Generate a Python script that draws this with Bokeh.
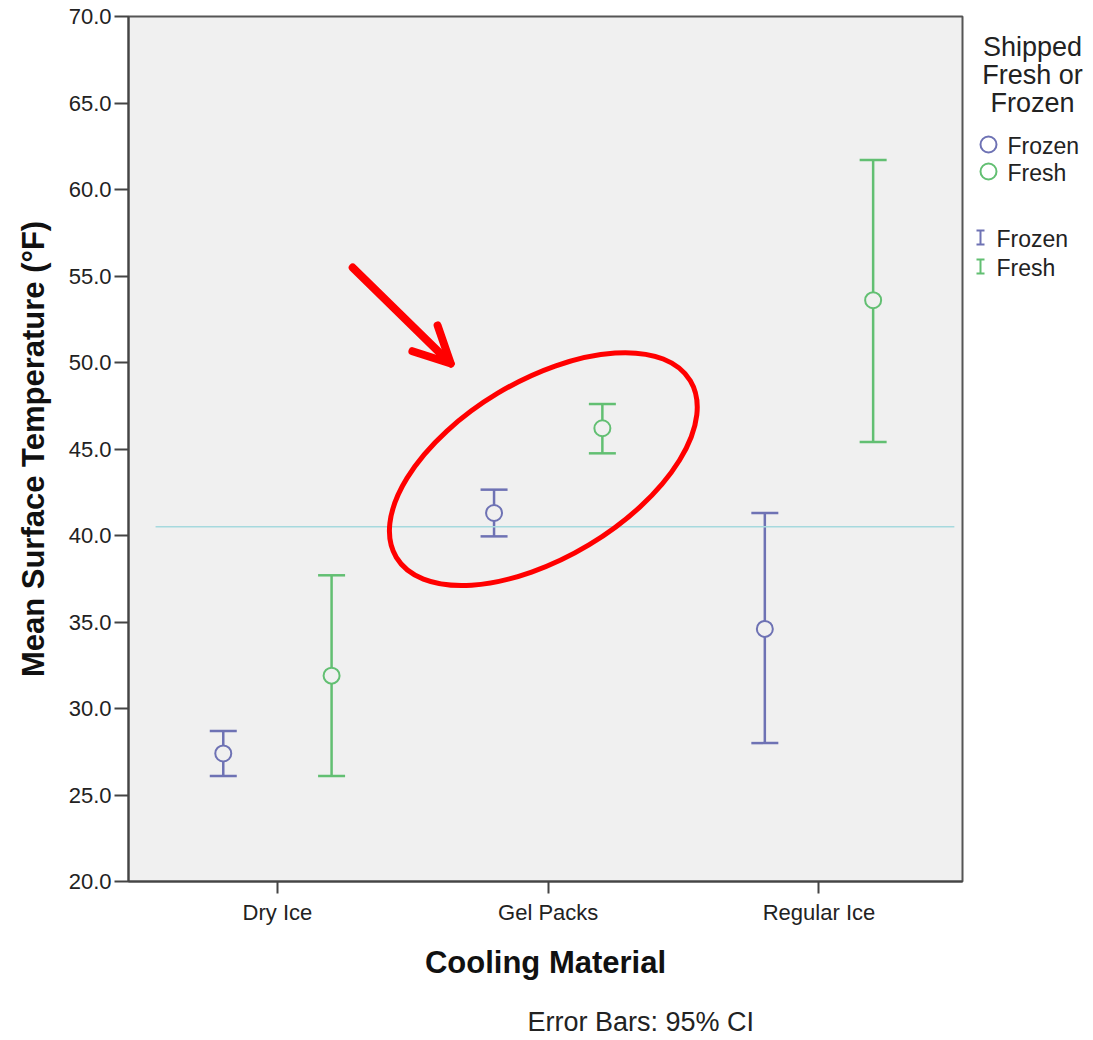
from bokeh.plotting import figure
from bokeh.layouts import row, column
from bokeh.models import (ColumnDataSource, Whisker, TeeHead, FixedTicker, Range1d,
                          Arrow, OpenHead, NumeralTickFormatter)
from bokeh.core.properties import value
from bokeh.embed import file_html
from bokeh.resources import INLINE

# ---------------- data ----------------
materials = ["Dry Ice", "Gel Packs", "Regular Ice"]
frozen_mean = [27.4, 41.3, 34.6]
frozen_lower = [26.1, 39.95, 28.0]
frozen_upper = [28.7, 42.65, 41.3]
fresh_mean = [31.9, 46.2, 53.6]
fresh_lower = [26.1, 44.75, 45.4]
fresh_upper = [37.7, 47.6, 61.7]
reference_value = 40.5
y_ticks = [20, 25, 30, 35, 40, 45, 50, 55, 60, 65, 70]
series_names = ["Frozen", "Fresh"]
legend_title = ["Shipped", "Fresh or", "Frozen"]
footnote = "Error Bars: 95% CI"

FROZEN_C = "#6e72b4"
FRESH_C = "#62bf72"
FONT = "Liberation Sans"
TXT = "#222222"

cat_pos = [i + 1 for i in range(len(materials))]
frozen_x = [c - 0.2 for c in cat_pos]
fresh_x = [c + 0.2 for c in cat_pos]

# frame geometry (page pixels)
FL, FR, FT, FB = 128, 962, 16, 881
PW = FR + 2          # main figure width
PH = FB + 110        # main figure height
LW = 121             # legend panel width
FH = 47              # footnote strip height

p = figure(width=PW, height=PH, x_range=Range1d(0.45, 3.53), y_range=Range1d(20, 70),
           toolbar_location=None, output_backend="svg",
           min_border_left=FL, min_border_top=FT, min_border_right=PW - FR,
           min_border_bottom=PH - FB)
p.background_fill_color = "#f0f0f0"
p.border_fill_color = "white"
p.outline_line_color = "#555555"
p.outline_line_width = 2
p.grid.visible = False

# axes
p.xaxis.ticker = FixedTicker(ticks=cat_pos)
p.xaxis.major_label_overrides = {c: m for c, m in zip(cat_pos, materials)}
p.yaxis.ticker = FixedTicker(ticks=y_ticks)
p.yaxis.formatter = NumeralTickFormatter(format="0.0")
for ax in (p.xaxis[0], p.yaxis[0]):
    ax.minor_tick_line_color = None
    ax.major_tick_in = 0
    ax.axis_line_color = "#444444"
    ax.axis_line_width = 2
    ax.major_tick_line_color = "#444444"
    ax.major_tick_line_width = 2
    ax.major_label_text_font = FONT
    ax.major_label_text_font_size = "22px"
    ax.major_label_text_color = TXT
    ax.axis_label_text_font = FONT
    ax.axis_label_text_font_style = "bold"
    ax.axis_label_text_color = "#111111"
p.xaxis.major_tick_out = 12
p.yaxis.major_tick_out = 14
p.xaxis.major_label_standoff = 6
p.yaxis.major_label_standoff = 3
p.xaxis.axis_label = "Cooling Material"
p.yaxis.axis_label = "Mean Surface Temperature (°F)"
p.xaxis.axis_label_text_font_size = "31px"
p.yaxis.axis_label_text_font_size = "31px"
p.xaxis.axis_label_standoff = 17
p.yaxis.axis_label_standoff = 15

# reference line
x_lo, x_hi = 0.55, 3.50
p.line(x=[x_lo, x_hi], y=[reference_value, reference_value], line_color="#a6d9de", line_width=1.5)

# error bars and means
for xs, mean, lo, hi, col in ((frozen_x, frozen_mean, frozen_lower, frozen_upper, FROZEN_C),
                              (fresh_x, fresh_mean, fresh_lower, fresh_upper, FRESH_C)):
    src = ColumnDataSource(dict(x=xs, mean=mean, lower=lo, upper=hi))
    w = Whisker(base="x", upper="upper", lower="lower", source=src,
                line_color=col, line_width=2.5,
                upper_head=TeeHead(size=27, line_color=col, line_width=2.5),
                lower_head=TeeHead(size=27, line_color=col, line_width=2.5))
    p.add_layout(w)
    p.scatter(x="x", y="mean", source=src, marker="circle", size=16,
              fill_color="#f0f0f0", line_color=col, line_width=2)

# red annotation ellipse and arrow
p.ellipse(x=[1.982], y=[43.84], width=[343], height=[177], angle=[0.541],
          width_units="screen", height_units="screen",
          fill_color=None, line_color="#ff0000", line_width=5)
p.add_layout(Arrow(x_start=1.278, y_start=55.49, x_end=1.640, y_end=49.94,
                   line_color="#ff0000", line_width=8, line_cap="round",
                   end=OpenHead(size=36, line_color="#ff0000", line_width=8, line_cap="round",
                                line_join="round")))

# ---------------- legend panel (coordinates = page pixels) ----------------
lg = figure(width=LW, height=PH, x_range=Range1d(PW, PW + LW), y_range=Range1d(FB, FT),
            toolbar_location=None, output_backend="svg",
            min_border_left=0, min_border_right=0, min_border_top=FT,
            min_border_bottom=PH - FB)
lg.axis.visible = False
lg.grid.visible = False
lg.outline_line_color = None
lg.background_fill_color = "white"
lg.border_fill_color = "white"

lg.text(x=[1032, 1032, 1032], y=[46, 74, 102], text=legend_title, text_align="center",
        text_baseline="middle", text_font=value(FONT), text_font_size="27px", text_color=TXT)

cols = [FROZEN_C, FRESH_C]
lg.scatter(x=[988, 988], y=[144, 171], marker="circle", size=16, fill_color=None,
           line_color=cols, line_width=2)
lg.text(x=[1007, 1007], y=[145, 172], text=series_names, text_baseline="middle",
        text_font=value(FONT), text_font_size="23px", text_color=TXT)

iy = [237, 266]
lg.segment(x0=[980, 980], y0=[y - 7 for y in iy], x1=[980, 980], y1=[y + 7 for y in iy],
           line_color=cols, line_width=2)
lg.segment(x0=[976, 976], y0=[y - 7 for y in iy], x1=[984, 984], y1=[y - 7 for y in iy],
           line_color=cols, line_width=2)
lg.segment(x0=[976, 976], y0=[y + 7 for y in iy], x1=[984, 984], y1=[y + 7 for y in iy],
           line_color=cols, line_width=2)
lg.text(x=[996, 996], y=[y + 1 for y in iy], text=series_names, text_baseline="middle",
        text_font=value(FONT), text_font_size="23px", text_color=TXT)

# ---------------- footnote strip (coordinates = page pixels) ----------------
ft = figure(width=PW, height=FH, x_range=Range1d(FL, FR), y_range=Range1d(PH + FH, PH),
            toolbar_location=None, output_backend="svg",
            min_border_left=FL, min_border_right=PW - FR, min_border_top=0, min_border_bottom=0)
ft.axis.visible = False
ft.grid.visible = False
ft.outline_line_color = None
ft.background_fill_color = "white"
ft.border_fill_color = "white"
ft.text(x=[527], y=[1021], text=[footnote], text_baseline="middle",
        text_font=value(FONT), text_font_size="27px", text_color=TXT)

layout = column(row(p, lg, spacing=0), ft, spacing=0)
open("out.html", "w").write(file_html(layout, INLINE))
